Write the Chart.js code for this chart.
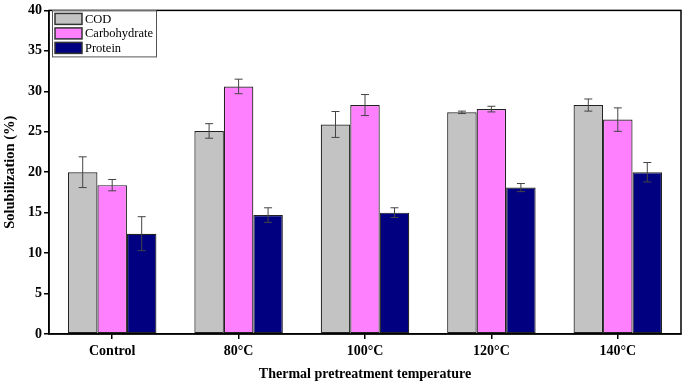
<!DOCTYPE html>
<html>
<head>
<meta charset="utf-8">
<script src="https://cdn.jsdelivr.net/npm/chart.js@4"></script>
<style>
  html, body { margin: 0; padding: 0; background: #fff; }
  #wrap { width: 686px; height: 387px; position: relative; }
</style>
</head>
<body>
<div id="wrap"><canvas id="chart"></canvas></div>
<script>
// --- dados ---
const categorias = ['Control', '80°C', '100°C', '120°C', '140°C'];
const series = ['COD', 'Carbohydrate', 'Protein'];
const valoresCOD = [20.0, 25.1, 25.9, 27.4, 28.3];
const valoresCarb = [18.4, 30.6, 28.3, 27.8, 26.5];
const valoresProt = [12.4, 14.7, 15.0, 18.1, 20.0];
const erroCOD = [1.9, 0.9, 1.6, 0.15, 0.75];
const erroCarb = [0.7, 0.9, 1.3, 0.35, 1.45];
const erroProt = [2.1, 0.9, 0.6, 0.5, 1.2];
const ticksY = [0, 5, 10, 15, 20, 25, 30, 35, 40];

const cores = ['#c3c3c3', '#ff80ff', '#000080'];
const erros = [erroCOD, erroCarb, erroProt];
const SERIF = '"Liberation Serif", "Times New Roman", serif';

// barras de erro + moldura + legenda dentro do grafico
const extras = {
    id: 'extras',
    afterDatasetsDraw(chart) {
        const ctx = chart.ctx;
        const y = chart.scales.y;
        ctx.save();
        ctx.strokeStyle = '#444';
        ctx.lineWidth = 1;
        chart.data.datasets.forEach((ds, i) => {
            const meta = chart.getDatasetMeta(i);
            meta.data.forEach((bar, j) => {
                const v = ds.data[j], e = erros[i][j];
                const yt = y.getPixelForValue(v + e);
                const yb = y.getPixelForValue(v - e);
                const x = bar.x;
                ctx.beginPath();
                ctx.moveTo(x, yt); ctx.lineTo(x, yb);
                ctx.moveTo(x - 4, yt); ctx.lineTo(x + 4, yt);
                ctx.moveTo(x - 4, yb); ctx.lineTo(x + 4, yb);
                ctx.stroke();
            });
        });
        ctx.restore();
    },
    afterDraw(chart) {
        const ctx = chart.ctx;
        const a = chart.chartArea;
        ctx.save();
        // moldura
        ctx.strokeStyle = '#000';
        ctx.lineWidth = 1.5;
        ctx.strokeRect(a.left, a.top, a.right - a.left, a.bottom - a.top);

        // legenda
        const lx = a.left + 3, ly = a.top;
        ctx.lineWidth = 1;
        ctx.strokeStyle = '#555';
        ctx.fillStyle = '#fff';
        ctx.fillRect(lx, ly, 104, 46);
        ctx.strokeRect(lx + 0.5, ly + 0.5, 104, 46);
        ctx.font = '12.5px ' + SERIF;
        ctx.textBaseline = 'middle';
        series.forEach((nome, i) => {
            const ry = ly + 3 + i * 14.5;
            ctx.fillStyle = cores[i];
            ctx.fillRect(lx + 3, ry, 27, 11);
            ctx.strokeStyle = '#333';
            ctx.lineWidth = 1.5;
            ctx.strokeRect(lx + 3, ry, 27, 11);
            ctx.fillStyle = '#000';
            ctx.fillText(nome, lx + 33, ry + 6);
        });
        ctx.restore();
    }
};

const ctx = document.getElementById('chart').getContext('2d');
new Chart(ctx, {
    type: 'bar',
    data: {
        labels: categorias,
        datasets: series.map((nome, i) => ({
            label: nome,
            data: [valoresCOD, valoresCarb, valoresProt][i],
            backgroundColor: cores[i],
            borderColor: '#222',
            borderWidth: 1.2,
            borderSkipped: false,
            barPercentage: 1,
            categoryPercentage: 0.7
        }))
    },
    options: {
        responsive: true,
        maintainAspectRatio: false,
        animation: false,
        layout: { padding: { top: 9, right: 5, left: 0, bottom: 0 } },
        plugins: {
            legend: { display: false },
            tooltip: { enabled: false }
        },
        scales: {
            x: {
                offset: true,
                grid: { display: true, drawOnChartArea: false, offset: false, tickLength: 5, color: '#000', lineWidth: 1.5 },
                border: { color: '#000', width: 1.5 },
                ticks: { color: '#000', padding: 4, font: { family: SERIF, size: 14, weight: 'bold' } },
                title: {
                    display: true,
                    text: 'Thermal pretreatment temperature',
                    color: '#000',
                    font: { family: SERIF, size: 14, weight: 'bold' },
                    padding: { top: 0, bottom: 4 }
                },
                afterFit(scale) { scale.height = 53; }
            },
            y: {
                min: 0,
                max: 40,
                afterBuildTicks(scale) { scale.ticks = ticksY.map(v => ({ value: v })); },
                grid: { display: true, drawOnChartArea: false, tickLength: 5, color: '#000', lineWidth: 1.5 },
                border: { color: '#000', width: 1.5 },
                ticks: { color: '#000', padding: 2, font: { family: SERIF, size: 14, weight: 'bold' } },
                title: {
                    display: true,
                    text: 'Solubilization (%)',
                    color: '#000',
                    font: { family: SERIF, size: 14.5, weight: 'bold' },
                    padding: { top: 2, bottom: 0 }
                },
                afterFit(scale) { scale.width = 49; }
            }
        }
    },
    plugins: [extras]
});
</script>
</body>
</html>
